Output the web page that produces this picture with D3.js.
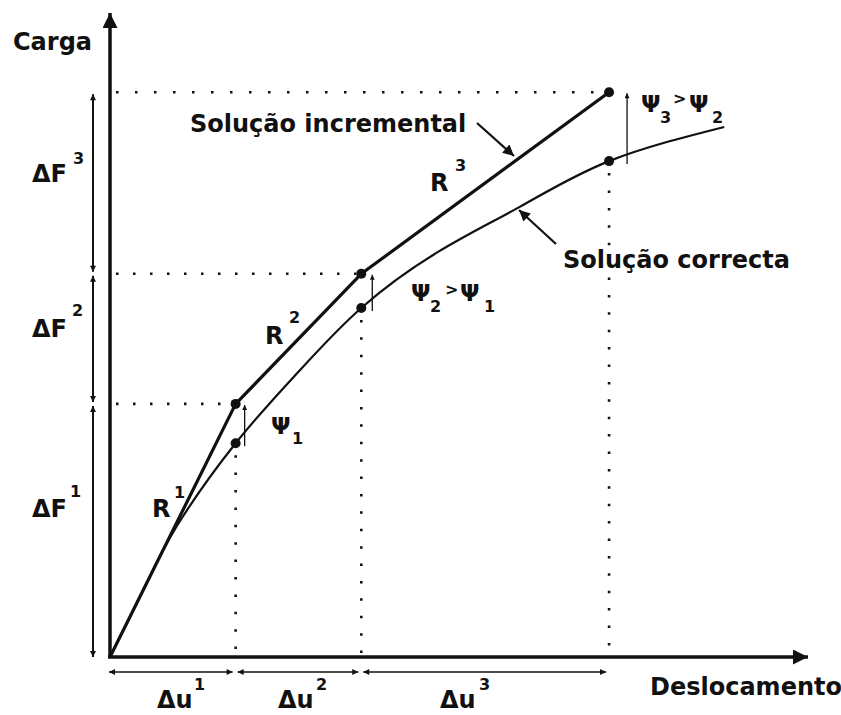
<!DOCTYPE html>
<html>
<head>
<meta charset="utf-8">
<script src="https://cdn.jsdelivr.net/npm/d3@7"></script>
<style>
  body { margin: 0; background: #fff; }
  text { font-family: "DejaVu Sans", sans-serif; font-weight: bold; fill: #111; }
</style>
</head>
<body>
<svg id="chart" width="841" height="715"></svg>
<script>

// load steps (incremental solution)
var stepU = [0, 1.8, 3.6, 7.15];
var stepF = [0, 3.93, 5.95, 8.77];

// exact (correct) solution curve
var exactU = [0, 0.5, 0.95, 1.8, 2.7, 3.6, 4.7, 5.87, 7.15, 8.8];
var exactF = [0, 1.09, 2.02, 3.32, 4.43, 5.42, 6.29, 6.99, 7.70, 8.23];

var stepNames = ["1", "2", "3"];

var chart = {};

function setup() {
    chart.svg = d3.select("#chart");

    chart.x = d3.scaleLinear().domain([0, 10]).range([110, 808]);
    chart.y = d3.scaleLinear().domain([0, 10]).range([657, 13]);

    var x = chart.x, y = chart.y, svg = chart.svg;

    // arrow heads
    var defs = svg.append("defs");
    function marker(id, len, wid) {
        defs.append("marker")
            .attr("id", id)
            .attr("viewBox", "0 0 10 10")
            .attr("refX", 10).attr("refY", 5)
            .attr("markerUnits", "userSpaceOnUse")
            .attr("markerWidth", len).attr("markerHeight", wid)
            .attr("orient", "auto-start-reverse")
            .append("path")
            .attr("d", "M0,0 L10,5 L0,10 z")
            .attr("fill", "#111");
    }
    marker("axisHead", 27, 15);
    marker("dimHead", 9, 6);
    marker("smallHead", 7, 5);
    marker("noteHead", 13, 11);

    var steps = d3.range(1, stepU.length).map(i => ({
        u0: stepU[i - 1], u1: stepU[i],
        f0: stepF[i - 1], f1: stepF[i],
        exact: exactF[exactU.indexOf(stepU[i])],
        name: stepNames[i - 1]
    }));

    // dotted guide lines
    var guides = svg.append("g")
        .attr("stroke", "#111")
        .attr("stroke-width", 2.6)
        .attr("stroke-linecap", "butt")
        .attr("fill", "none");

    guides.selectAll("line.h")
        .data(steps)
        .join("line")
        .attr("class", "h")
        .attr("x1", x(0) + 6).attr("x2", d => x(d.u1))
        .attr("y1", d => y(d.f1)).attr("y2", d => y(d.f1))
        .attr("stroke-dasharray", (d, i) => i == 2 ? "2.5,16.5" : "2.5,14.5");

    guides.selectAll("line.v")
        .data(steps)
        .join("line")
        .attr("class", "v")
        .attr("x1", d => x(d.u1)).attr("x2", d => x(d.u1))
        .attr("y1", d => y(d.exact) + 12).attr("y2", y(0))
        .attr("stroke-dasharray", "2.5,14.9");

    // axes
    svg.append("line")
        .attr("x1", x(0)).attr("y1", y(0))
        .attr("x2", x(0)).attr("y2", y(10))
        .attr("stroke", "#111").attr("stroke-width", 3.5)
        .attr("marker-end", "url(#axisHead)");
    svg.append("line")
        .attr("x1", x(0) - 2).attr("y1", y(0))
        .attr("x2", x(10)).attr("y2", y(0))
        .attr("stroke", "#111").attr("stroke-width", 3.5)
        .attr("marker-end", "url(#axisHead)");

    // load increments on the left
    svg.append("g").selectAll("line")
        .data(steps)
        .join("line")
        .attr("x1", 93).attr("x2", 93)
        .attr("y1", d => y(d.f0) - (d.f0 == 0 ? 0 : 2))
        .attr("y2", d => y(d.f1) + 2)
        .attr("stroke", "#111").attr("stroke-width", 2)
        .attr("marker-start", "url(#dimHead)")
        .attr("marker-end", "url(#dimHead)");

    // displacement increments below
    svg.append("g").selectAll("line")
        .data(steps)
        .join("line")
        .attr("x1", d => x(d.u0) + (d.u0 == 0 ? -1 : 2))
        .attr("x2", d => x(d.u1) - 3)
        .attr("y1", 672).attr("y2", 672)
        .attr("stroke", "#111").attr("stroke-width", 1.4)
        .attr("marker-start", "url(#dimHead)")
        .attr("marker-end", "url(#dimHead)");

    // correct solution
    var exactLine = d3.line()
        .x(d => x(d[0])).y(d => y(d[1]))
        .curve(d3.curveNatural);
    svg.append("path")
        .attr("d", exactLine(d3.zip(exactU, exactF)))
        .attr("fill", "none").attr("stroke", "#111").attr("stroke-width", 2.2);

    // incremental solution
    var stepLine = d3.line().x(d => x(d[0])).y(d => y(d[1]));
    svg.append("path")
        .attr("d", stepLine(d3.zip(stepU, stepF)))
        .attr("fill", "none").attr("stroke", "#111").attr("stroke-width", 3.2)
        .attr("stroke-linejoin", "round");

    // residual arrows (psi)
    svg.append("g").selectAll("line")
        .data(steps)
        .join("line")
        .attr("x1", (d, i) => x(d.u1) + [9, 11, 18][i])
        .attr("x2", (d, i) => x(d.u1) + [9, 11, 18][i])
        .attr("y1", d => y(d.exact) + 3)
        .attr("y2", d => y(d.f1) + 1)
        .attr("stroke", "#111").attr("stroke-width", 1.3)
        .attr("marker-end", "url(#smallHead)");

    // points
    var pts = steps.map(d => [d.u1, d.f1]).concat(steps.map(d => [d.u1, d.exact]));
    svg.append("g").selectAll("circle")
        .data(pts)
        .join("circle")
        .attr("cx", d => x(d[0])).attr("cy", d => y(d[1]))
        .attr("r", 5).attr("fill", "#111");

    // pointer arrows for the two curves
    svg.append("line")
        .attr("x1", 477).attr("y1", 123).attr("x2", 514).attr("y2", 156)
        .attr("stroke", "#111").attr("stroke-width", 2.2)
        .attr("marker-end", "url(#noteHead)");
    svg.append("line")
        .attr("x1", 556).attr("y1", 244).attr("x2", 519).attr("y2", 210)
        .attr("stroke", "#111").attr("stroke-width", 2.2)
        .attr("marker-end", "url(#noteHead)");

    // text
    function txt(s, tx, ty, size) {
        svg.append("text")
            .attr("x", tx).attr("y", ty)
            .attr("font-size", size)
            .text(s);
    }

    txt("Carga", 13, 50, 24);
    txt("Deslocamento", 650, 695, 24);
    txt("Solução incremental", 190, 132, 24);
    txt("Solução correcta", 563, 268, 24);

    txt("ΔF", 32, 182, 24); txt("3", 73, 164, 16);
    txt("ΔF", 32, 337, 24); txt("2", 72, 316, 16);
    txt("ΔF", 32, 517, 24); txt("1", 70, 497, 16);

    txt("R", 152, 517, 24); txt("1", 174, 498, 16);
    txt("R", 265, 344, 24); txt("2", 289, 323, 16);
    txt("R", 430, 191, 24); txt("3", 455, 171, 16);

    txt("Δu", 157, 708, 24); txt("1", 194, 690, 16);
    txt("Δu", 278, 708, 24); txt("2", 316, 690, 16);
    txt("Δu", 440, 708, 24); txt("3", 479, 690, 16);

    txt("Ψ", 271, 434, 23); txt("1", 292, 444, 16);

    txt("Ψ", 411, 301, 23); txt("2", 430, 312, 16);
    txt(">", 445, 295, 16);
    txt("Ψ", 460, 301, 23); txt("1", 484, 312, 16);

    txt("Ψ", 641, 112, 23); txt("3", 660, 123, 16);
    txt(">", 673, 104, 16);
    txt("Ψ", 689, 112, 23); txt("2", 712, 123, 16);
}

window.addEventListener("load", setup);
</script>
</body>
</html>
